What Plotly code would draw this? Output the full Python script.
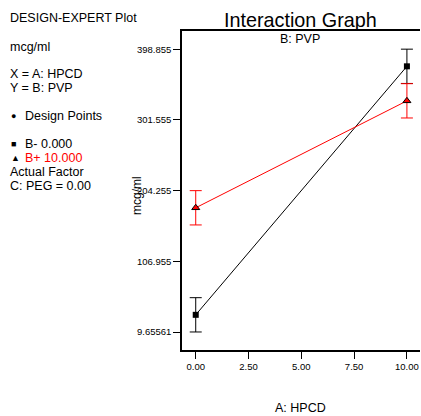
import plotly.graph_objects as go

# Factor A levels (HPCD) and the two B (PVP) series
hpcd_levels = [0.0, 10.0]
b_minus_mean = [33.3, 375.3]
b_plus_mean = [180.6, 327.8]
lsd_half = [23.6, 23.6]

x_ticks = [0.0, 2.5, 5.0, 7.5, 10.0]
x_tick_text = ["0.00", "2.50", "5.00", "7.50", "10.00"]
y_ticks = [9.65561, 106.955, 204.255, 301.555, 398.855]
y_tick_text = ["9.65561", "106.955", "204.255", "301.555", "398.855"]

W, H = 421, 416
L, R, T, B = 182, 1, 31, 66
PW, PH = W - L - R, H - T - B
FONT = "Liberation Sans, Arial, sans-serif"


def px(x, y):
    """Convert page pixel position to paper coordinates."""
    return (x - L) / PW, 1 - (y - T) / PH


fig = go.Figure()

fig.add_trace(go.Scatter(
    x=hpcd_levels, y=b_minus_mean, mode="lines+markers",
    line=dict(color="black", width=1),
    marker=dict(symbol="square", size=6, color="black"),
    error_y=dict(type="data", array=lsd_half, color="black", thickness=1, width=6),
    showlegend=False,
))
fig.add_trace(go.Scatter(
    x=hpcd_levels, y=b_plus_mean, mode="lines+markers",
    line=dict(color="red", width=1),
    marker=dict(symbol="triangle-up", size=7, color="red",
                line=dict(color="black", width=1)),
    error_y=dict(type="data", array=lsd_half, color="red", thickness=1, width=6),
    showlegend=False,
))

annotations = []


def text(x, y, s, size=12.5, color="black", xanchor="left", angle=0):
    ax, ay = px(x, y)
    annotations.append(dict(
        x=ax, y=ay, xref="paper", yref="paper", text=s, showarrow=False,
        xanchor=xanchor, yanchor="middle", textangle=angle,
        font=dict(family=FONT, size=size, color=color),
    ))


text(300, 20, "Interaction Graph", size=19.8, xanchor="center")
text(300, 39, "B: PVP", size=12.5, xanchor="center")
text(300, 408, "A: HPCD", size=12.5, xanchor="center")
text(137, 196, "mcg/ml", size=12, xanchor="center", angle=-90)

text(8, 18, "DESIGN-EXPERT Plot")
text(8, 47, "mcg/ml")
text(8, 74, "X = A: HPCD")
text(8, 88, "Y = B: PVP")
text(9, 116, "●", size=9)
text(23, 116, "Design Points")
text(9, 144, "■", size=9)
text(23, 144, "B- 0.000")
text(9, 158, "▲", size=9)
text(23, 158, "B+ 10.000", color="red")
text(8, 172, "Actual Factor")
text(8, 186, "C: PEG = 0.00")

fig.update_layout(
    width=W, height=H,
    margin=dict(l=L, r=R, t=T, b=B, pad=0),
    paper_bgcolor="white", plot_bgcolor="white",
    font=dict(family=FONT, size=9.5, color="black"),
    annotations=annotations,
    xaxis=dict(
        range=[-0.65, 10.62], tickvals=x_ticks, ticktext=x_tick_text,
        showgrid=False, zeroline=False, showline=True, linecolor="black",
        linewidth=1.5, mirror=True, ticks="outside", ticklen=7,
        tickcolor="black", tickfont=dict(size=9.5, family=FONT),
    ),
    yaxis=dict(
        range=[-15.1, 423.9], tickvals=y_ticks, ticktext=y_tick_text,
        showgrid=False, zeroline=False, showline=True, linecolor="black",
        linewidth=1.5, ticks="outside", ticklen=7, tickcolor="black",
        tickfont=dict(size=9.5, family=FONT),
    ),
)

fig.write_html("out.html")
